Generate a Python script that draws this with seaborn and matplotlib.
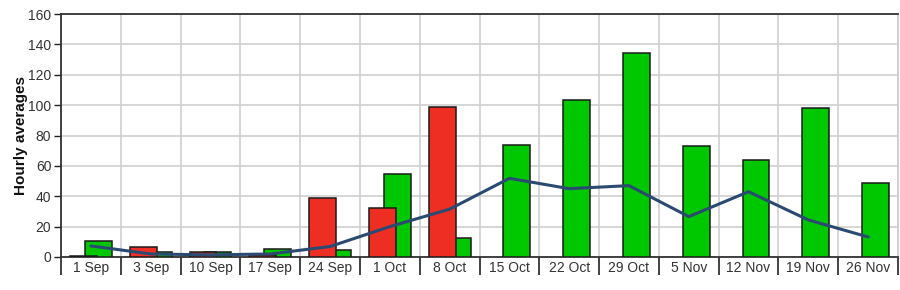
import numpy as np
import pandas as pd
import matplotlib
matplotlib.use("Agg")
import matplotlib.pyplot as plt
from matplotlib.ticker import FixedLocator, NullFormatter, FixedFormatter
import seaborn as sns

categories = ["1 Sep", "3 Sep", "10 Sep", "17 Sep", "24 Sep", "1 Oct", "8 Oct",
              "15 Oct", "22 Oct", "29 Oct", "5 Nov", "12 Nov", "19 Nov", "26 Nov"]
red_values = [0.8, 6.4, 3.0, 1.2, 39.0, 32.5, 99.0, 0, 0, 0, 0, 0, 0, 0]
green_values = [10.3, 3.0, 3.0, 5.5, 4.6, 54.6, 12.7, 73.5, 103.4, 134.5, 72.9, 63.6, 98.3, 48.9]
avg_values = [7.3, 2.0, 1.4, 2.0, 6.9, 20.0, 31.5, 51.8, 45.0, 47.0, 26.6, 43.0, 24.4, 13.2]
y_ticks = [0, 20, 40, 60, 80, 100, 120, 140, 160]

sns.set_style("white")
plt.rcParams["font.family"] = ["Liberation Sans", "DejaVu Sans"]

idx = np.arange(len(categories))
df = pd.DataFrame({"cat": categories, "pos": idx, "red": red_values,
                   "green": green_values, "avg": avg_values})
df_red = df[df["red"] > 0]

fig = plt.figure(figsize=(9, 2.9), dpi=100)
ax = fig.add_axes([61 / 900, 1 - 257 / 290, 837 / 900, 243 / 290])

sns.barplot(x=df["pos"] + 0.125, y=df["green"], native_scale=True, width=0.45,
            color="#00c800", saturation=1, edgecolor="#1a1a1a", linewidth=1.1, ax=ax, zorder=3)
sns.barplot(x=df_red["pos"] - 0.125, y=df_red["red"], native_scale=True, width=0.45,
            color="#ee2e22", saturation=1, edgecolor="#1a1a1a", linewidth=1.1, ax=ax, zorder=4)
sns.lineplot(x=df["pos"], y=df["avg"], color="#2b4a72", linewidth=2.2, ax=ax, zorder=5)

ax.set_xlim(-0.5, len(categories) - 0.5)
ax.set_ylim(0, 160)
ax.set_yticks(y_ticks)
ax.set_yticklabels([str(v) for v in y_ticks], fontsize=10, color="#333333")

bounds = np.arange(len(categories) + 1) - 0.5
ax.xaxis.set_major_locator(FixedLocator(bounds))
ax.xaxis.set_major_formatter(NullFormatter())
ax.xaxis.set_minor_locator(FixedLocator(idx))
ax.xaxis.set_minor_formatter(FixedFormatter(categories))
ax.tick_params(axis="x", which="major", length=13, width=1.2, color="#222222", direction="out", bottom=True)
ax.tick_params(axis="x", which="minor", length=0, labelsize=10, labelcolor="#333333", pad=3, bottom=True)
ax.tick_params(axis="y", which="major", length=5, width=1, color="#222222", direction="out", left=True, pad=2)

ax.grid(True, which="major", axis="both", color="#d0d0d0", linewidth=1.2, zorder=0)
ax.set_axisbelow(True)

for side in ["left", "bottom", "top"]:
    ax.spines[side].set_visible(True)
    ax.spines[side].set_color("#333333")
    ax.spines[side].set_linewidth(1.3)
ax.spines["right"].set_visible(True)
ax.spines["right"].set_color("#cccccc")
ax.spines["right"].set_linewidth(1.2)

ax.set_xlabel("")
ax.set_ylabel("Hourly averages", fontsize=11, fontweight="bold", color="#111111", labelpad=0)

fig.savefig("out.png", dpi=100)
